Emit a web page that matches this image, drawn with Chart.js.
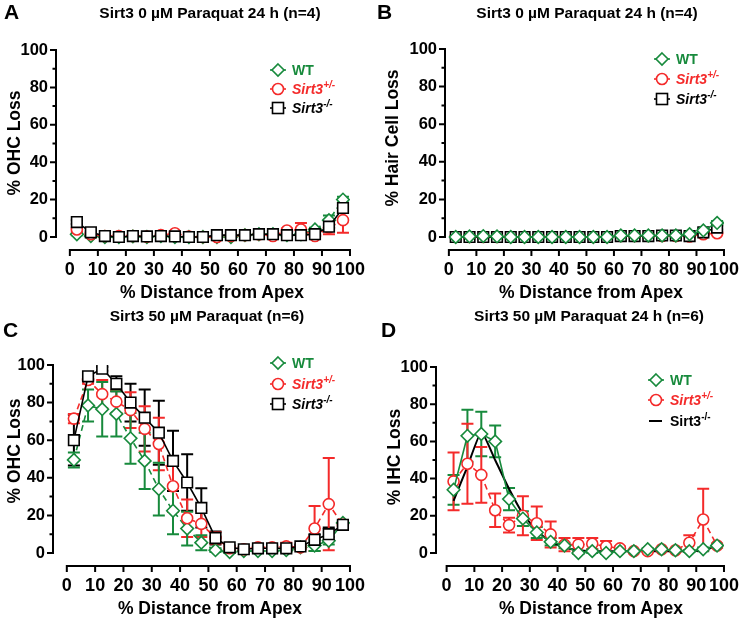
<!DOCTYPE html>
<html>
<head>
<meta charset="utf-8">
<script src="https://cdn.jsdelivr.net/npm/chart.js@4.4.1/dist/chart.umd.min.js"></script>
<style>
  body { margin: 0; background: #fff; width: 748px; height: 619px; position: relative; overflow: hidden;
         font-family: 'Liberation Sans', Arial, sans-serif; font-weight: bold; color: #000; }
  canvas { position: absolute; }
  .t { position: absolute; white-space: nowrap; transform: translate(-50%, -50%); z-index: 2; }
  .ttl { font-size: 15.5px; }
  .ax { font-size: 17.5px; }
  .yt { transform: translate(-50%, -50%) rotate(-90deg); }
  .let { position: absolute; font-size: 21px; z-index: 2; }
  .lg { position: absolute; font-size: 14px; display: flex; align-items: center; transform: translateY(-50%); z-index: 2; white-space: nowrap; }
  .lg svg { margin-right: 5px; }
  .lg sup { font-size: 10px; vertical-align: 6px; line-height: 0; }
</style>
</head>
<body>
<canvas id="cA"></canvas>
<canvas id="cB"></canvas>
<canvas id="cC"></canvas>
<canvas id="cD"></canvas>

<div class="let" style="left:4px;top:0px">A</div>
<div class="let" style="left:377px;top:0px">B</div>
<div class="let" style="left:3px;top:318px">C</div>
<div class="let" style="left:381px;top:318px">D</div>

<div class="t ttl" style="left:210px;top:13px">Sirt3 0 &micro;M Paraquat 24 h (n=4)</div>
<div class="t ttl" style="left:587px;top:13px">Sirt3 0 &micro;M Paraquat 24 h (n=4)</div>
<div class="t ttl" style="left:207px;top:316px">Sirt3 50 &micro;M Paraquat (n=6)</div>
<div class="t ttl" style="left:589px;top:316px">Sirt3 50 &micro;M Paraquat 24 h (n=6)</div>

<div class="t ax" style="left:212px;top:292px">% Distance from Apex</div>
<div class="t ax" style="left:591px;top:292px">% Distance from Apex</div>
<div class="t ax" style="left:210px;top:608px">% Distance from Apex</div>
<div class="t ax" style="left:591px;top:608px">% Distance from Apex</div>
<div class="t ax yt" style="left:14px;top:143px">% OHC Loss</div>
<div class="t ax yt" style="left:392px;top:138px">% Hair Cell Loss</div>
<div class="t ax yt" style="left:14px;top:451px">% OHC Loss</div>
<div class="t ax yt" style="left:394px;top:457px">% IHC Loss</div>

<div id="legends"></div>

<script>
// ── Data ──
const dist = [2.5, 7.5, 12.5, 17.5, 22.5, 27.5, 32.5, 37.5, 42.5, 47.5, 52.5, 57.5, 62.5, 67.5, 72.5, 77.5, 82.5, 87.5, 92.5, 97.5];
const xTicks = [0, 10, 20, 30, 40, 50, 60, 70, 80, 90, 100];
const yTicks = [0, 10, 20, 30, 40, 50, 60, 70, 80, 90, 100];

// A: OHC loss, 0 uM
const aWT     = [1.5, 0.5, 0, 0, 0.3, 0, 0.5, 0, 0, 0, 0, 0, 1, 1.5, 1.5, 1, 1.5, 4, 9, 20];
const aWTerr  = [0.5, 0.5, 0, 0, 0, 0, 0, 0, 0, 0, 0, 0, 0, 0, 0, 0, 0.5, 1, 2.5, 1.5];
const aHet    = [4, 1.5, 0.5, 0.5, 0.5, 0.3, 1, 2, 0.3, 0, 0, 0.5, 1, 1.5, 0.5, 3.5, 4, 0.5, 5, 9];
const aHetErr = [1, 0.5, 0, 0, 0, 0, 0, 0.5, 0, 0, 0, 0, 0, 0, 0, 1, 3.5, 0.5, 3.5, 6.7];
const aKO     = [8, 2.5, 0.5, 0, 0.5, 0.3, 0.5, 0.3, 0, 0, 1, 1, 1, 1.5, 1.5, 1, 1, 1.5, 5.5, 15.5];
const aKOerr  = [1, 0.5, 0, 0, 0, 0, 0, 0, 0, 0, 0, 0, 0, 0, 0, 0, 0, 0.5, 1.5, 1.5];

// B: hair cell loss, 0 uM
const bWT     = [0, 0.3, 0.5, 0.3, 0, 0, 0, 0, 0, 0, 0, 0, 0.8, 0.8, 0.8, 0.8, 0.8, 1.5, 3.5, 7.5];
const bWTerr  = [0, 0, 0, 0, 0, 0, 0, 0, 0, 0, 0, 0, 0, 0, 0, 0, 0, 0.5, 1, 1];
const bHet    = [0, 0, 0, 0, 0, 0, 0, 0, 0, 0, 0, 0, 0.5, 0.5, 0.5, 0.5, 0.5, 0.3, 1.5, 2];
const bHetErr = [0, 0, 0, 0, 0, 0, 0, 0, 0, 0, 0, 0, 0, 0, 0, 0, 0, 0, 0.5, 0.5];
const bKO     = [0, 0, 0, 0, 0, 0, 0, 0, 0, 0, 0, 0, 0.5, 0.5, 0.5, 0.8, 0.8, 0.5, 2.5, 5];
const bKOerr  = [0, 0, 0, 0, 0, 0, 0, 0, 0, 0, 0, 0, 0, 0, 0, 0, 0, 0, 0.5, 1];

// C: OHC loss, 50 uM
const cWT     = [49.5, 78.5, 76.5, 74, 61, 49, 34, 22.5, 13, 5.5, 1.5, 0.5, 1, 1, 1, 1.5, 3, 4, 6.5, 16];
const cWTerr  = [4, 8.5, 14.5, 12, 13.5, 15, 14, 12.5, 9, 4, 1, 0.5, 0.5, 0.5, 0.5, 1, 1, 3, 2, 1];
const cHet    = [71.5, 92, 84.5, 80.5, 76, 66, 58, 35.5, 18.5, 15.5, 8, 2.5, 2, 3, 3, 3.5, 3, 13, 26, 15];
const cHetErr = [2.5, 2, 7.5, 6, 9.5, 12, 14, 13.5, 10, 7, 3, 1, 1, 1, 1, 2, 1, 12, 24.5, 1];
const cKO     = [60, 94, 98, 90, 80, 72, 64, 49, 37.5, 24, 8, 3, 2, 2.5, 2.5, 2.5, 3.5, 7, 10, 15];
const cKOerr  = [13.5, 1.5, 1, 4, 10, 15, 17, 16, 15, 10.5, 3.5, 1, 1, 1, 1, 1, 1, 3, 3.5, 1];

// D: IHC loss, 50 uM
const dWT     = [34, 63, 64, 60, 29, 18.5, 11, 6, 4, 0, 1, 0, 1, 1, 2, 2, 1.5, 1, 2, 4];
const dWTerr  = [8, 14, 12, 8.5, 6, 4, 3, 2, 1.5, 0.5, 1, 0.5, 0.5, 0.5, 0.5, 0.5, 0.5, 0.5, 1, 1];
const dHet    = [38.5, 48, 42, 23, 15, 20, 16, 10, 4.5, 4.5, 5, 3.5, 2.5, 1, 1, 2, 1.5, 5.5, 18, 4];
const dHetErr = [15.5, 21.5, 15, 9, 4, 10.5, 9, 7, 3.5, 3.5, 3, 3, 1, 0.5, 0.5, 0.5, 0.5, 4, 16.5, 1];
const dKO     = [28, 46.5, 65, 50, 34.5, 21, 12, 6, 3, 1.5, 1, 1, 1, 1, 1, 1, 1, 1, 1.5, 4];

const GREEN = '#178a3c', RED = '#f42a2a', BLACK = '#000';

// ── Plugins ──
// GraphPad-style axes: y line 0..100 with minor ticks, x line 0..100 offset below
const gpAxes = {
  id: 'gpAxes',
  afterDraw(chart) {
    const { ctx, chartArea, scales: { x, y } } = chart;
    const ax = chartArea.left, ay = chartArea.bottom;
    ctx.save();
    ctx.strokeStyle = '#000'; ctx.lineWidth = 2;
    ctx.beginPath();
    ctx.moveTo(ax, y.getPixelForValue(100) - 1); ctx.lineTo(ax, y.getPixelForValue(0) + 1);
    ctx.moveTo(x.getPixelForValue(0) - 1, ay); ctx.lineTo(x.getPixelForValue(100) + 1, ay);
    yTicks.forEach(v => {
      const py = y.getPixelForValue(v), len = v % 20 === 0 ? 6 : 3.5;
      ctx.moveTo(ax - len, py); ctx.lineTo(ax, py);
    });
    xTicks.forEach(v => {
      const px = x.getPixelForValue(v);
      ctx.moveTo(px, ay); ctx.lineTo(px, ay + 6);
    });
    ctx.stroke();
    ctx.restore();
  }
};

const errBars = {
  id: 'errBars',
  beforeDatasetsDraw(chart) {
    const { ctx, scales: { x, y } } = chart;
    chart.data.datasets.forEach(ds => {
      if (!ds.err) return;
      ctx.save();
      ctx.strokeStyle = ds.borderColor; ctx.lineWidth = 2;
      ds.data.forEach((p, j) => {
        const e = ds.err[j];
        if (!e) return;
        const px = x.getPixelForValue(p.x);
        const top = y.getPixelForValue(p.y + e), bot = y.getPixelForValue(p.y - e);
        ctx.beginPath();
        ctx.moveTo(px, top); ctx.lineTo(px, bot);
        ctx.moveTo(px - 6, top); ctx.lineTo(px + 6, top);
        ctx.moveTo(px - 6, bot); ctx.lineTo(px + 6, bot);
        ctx.stroke();
      });
      ctx.restore();
    });
  }
};

// ── Helpers ──
const pts = vals => vals.map((v, i) => ({ x: dist[i], y: v }));

function series(kind, vals, err, dashed) {
  const base = { data: pts(vals), err: err, backgroundColor: '#fff', borderWidth: 1.6, pointBorderWidth: 1.6, pointHoverRadius: 0 };
  if (kind === 'wt')  return Object.assign(base, { borderColor: GREEN, pointBorderColor: GREEN, pointStyle: 'rectRot', pointRadius: 6.3, borderDash: dashed ? [6, 4] : [] });
  if (kind === 'het') return Object.assign(base, { borderColor: RED, pointBorderColor: RED, pointStyle: 'circle', pointRadius: 5.5, borderDash: dashed ? [6, 4] : [] });
  return Object.assign(base, { borderColor: BLACK, pointBorderColor: BLACK, pointStyle: 'rect', pointRadius: 7.5 });
}

const FAM = "'Liberation Sans', Arial, sans-serif";

function makeChart(id, g, datasets) {
  const el = document.getElementById(id);
  el.width = g.w; el.height = g.h;
  el.style.left = g.left + 'px'; el.style.top = g.top + 'px';
  el.style.width = g.w + 'px'; el.style.height = g.h + 'px';
  const xs = (g.x100 - g.x0) / 100;
  const ys = (g.y0 - g.y100) / 100;
  const xMin = -(g.x0 - g.axisX) / xs;
  const yMin = -(g.axisY - g.y0) / ys;
  return new Chart(el, {
    type: 'line',
    data: { datasets },
    plugins: [errBars, gpAxes],
    options: {
      responsive: false, animation: false, events: [],
      layout: { padding: { left: 0, top: g.y100, right: g.w - g.x100, bottom: 0 } },
      plugins: { legend: { display: false }, tooltip: { enabled: false } },
      scales: {
        x: {
          type: 'linear', min: xMin, max: 100,
          afterBuildTicks: s => { s.ticks = xTicks.map(v => ({ value: v })); },
          afterFit: s => { s.height = g.h - g.axisY; },
          grid: { display: false, drawTicks: false },
          border: { display: false },
          ticks: { color: '#000', font: { family: FAM, size: 18, weight: 'bold' }, padding: 9, maxRotation: 0, autoSkip: false }
        },
        y: {
          type: 'linear', min: yMin, max: 100,
          afterBuildTicks: s => { s.ticks = yTicks.map(v => ({ value: v })); },
          afterFit: s => { s.width = g.axisX; },
          grid: { display: false, drawTicks: false },
          border: { display: false },
          ticks: { color: '#000', font: { family: FAM, size: 16.5, weight: 'bold' }, padding: 8, autoSkip: false, callback: v => (v % 20 === 0 ? v : '') }
        }
      }
    }
  });
}

makeChart('cA', { left: 0, top: 0, w: 374, h: 300, axisX: 56, x0: 70, x100: 353, y100: 50, y0: 237, axisY: 250 }, [
  series('ko', aKO, aKOerr), series('het', aHet, aHetErr, true), series('wt', aWT, aWTerr, true)
]);
makeChart('cB', { left: 374, top: 0, w: 374, h: 300, axisX: 71, x0: 75, x100: 359, y100: 49, y0: 237, axisY: 250 }, [
  series('wt', bWT, bWTerr, false), series('ko', bKO, bKOerr), series('het', bHet, bHetErr, true)
]);
makeChart('cC', { left: 0, top: 300, w: 374, h: 319, axisX: 53, x0: 67, x100: 354, y100: 65, y0: 253, axisY: 266 }, [
  series('ko', cKO, cKOerr), series('het', cHet, cHetErr, true), series('wt', cWT, cWTerr, true)
]);
makeChart('cD', { left: 374, top: 300, w: 374, h: 319, axisX: 62, x0: 73, x100: 360, y100: 67, y0: 253, axisY: 266 }, [
  series('wt', dWT, dWTerr, false), series('het', dHet, dHetErr, true),
  { data: pts(dKO), borderColor: BLACK, borderWidth: 2, pointRadius: 0, tension: 0.15 }
]);

// ── Legends ──
const icons = {
  wt:  `<svg width="18" height="16"><line x1="1" y1="8" x2="17" y2="8" stroke="${GREEN}" stroke-width="1.6"/><path d="M9 2 L15 8 L9 14 L3 8 Z" fill="#fff" stroke="${GREEN}" stroke-width="1.6"/></svg>`,
  het: `<svg width="18" height="16"><line x1="1" y1="8" x2="17" y2="8" stroke="${RED}" stroke-width="1.6"/><circle cx="9" cy="8" r="5.5" fill="#fff" stroke="${RED}" stroke-width="1.6"/></svg>`,
  ko:  `<svg width="18" height="16"><line x1="1" y1="8" x2="17" y2="8" stroke="#000" stroke-width="1.6"/><rect x="3.5" y="2.5" width="11" height="11" fill="#fff" stroke="#000" stroke-width="1.6"/></svg>`,
  koLine: `<svg width="18" height="16"><line x1="2" y1="8" x2="15" y2="8" stroke="#000" stroke-width="2"/></svg>`
};
const labels = {
  wt: `<span style="color:${GREEN}">WT</span>`,
  het: `<span style="color:${RED}"><i>Sirt3<sup>+/-</sup></i></span>`,
  ko: `<span><i>Sirt3<sup>-/-</sup></i></span>`,
  koPlain: `<span>Sirt3<sup>-/-</sup></span>`
};
const legendRows = [
  [269, [70, 89, 108], ['wt', 'het', 'ko']],
  [653, [59, 79, 99], ['wt', 'het', 'ko']],
  [269, [363, 384, 404], ['wt', 'het', 'ko']],
  [647, [380, 400, 421], ['wt', 'het', 'koLine']]
];
let html = '';
legendRows.forEach(([lx, ys, kinds]) => {
  kinds.forEach((k, i) => {
    const lab = k === 'koLine' ? labels.koPlain : labels[k];
    html += `<div class="lg" style="left:${lx}px;top:${ys[i]}px">${icons[k]}${lab}</div>`;
  });
});
document.getElementById('legends').innerHTML = html;
</script>
</body>
</html>
